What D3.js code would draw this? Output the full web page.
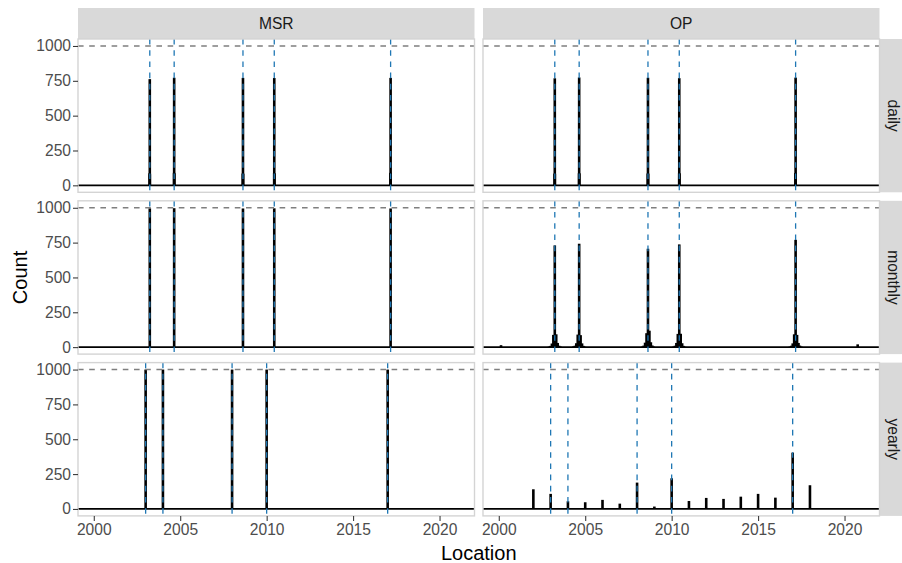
<!DOCTYPE html>
<html><head><meta charset="utf-8">
<script src="https://cdn.jsdelivr.net/npm/d3@7/dist/d3.min.js"></script>
<style>
body{margin:0;background:#fff}
svg{display:block;font-family:"Liberation Sans",Arial,Helvetica,sans-serif}
</style>
</head><body>
<svg id="chart" width="902" height="563"></svg>
<script>
// ---------- data ----------
const colFacets = ["MSR", "OP"];
const rowFacets = ["daily", "monthly", "yearly"];
const xTicks = [2000, 2005, 2010, 2015, 2020];
const yTicks = [0, 250, 500, 750, 1000];
const locationRange = [2000.13, 2020.98];
const referenceCount = 1000;
const trueChangeSubYear = [2003.24, 2004.65, 2008.63, 2010.44, 2017.17];
const trueChangeYear = [2003, 2004, 2008, 2010, 2017];

const msrDaily = [
  [2003.237, 88], [2003.24, 762], [2003.243, 80],
  [2004.647, 90], [2004.65, 772], [2004.653, 85],
  [2008.627, 86], [2008.63, 771], [2008.633, 82],
  [2010.437, 88], [2010.44, 770], [2010.443, 84],
  [2017.167, 90], [2017.17, 771], [2017.173, 86]
];
const opDaily = [
  [2003.237, 85], [2003.24, 768], [2003.243, 82],
  [2004.647, 88], [2004.65, 774], [2004.653, 84],
  [2008.627, 86], [2008.63, 772], [2008.633, 83],
  [2010.437, 87], [2010.44, 769], [2010.443, 85],
  [2017.167, 89], [2017.17, 773], [2017.173, 86]
];
const msrMonthly = [
  [2003.24, 996], [2004.65, 997], [2008.63, 995], [2010.44, 996], [2017.17, 995]
];
const opMonthly = [
  [2000.13, 14],
  [2002.907, 4], [2002.99, 9], [2003.073, 26], [2003.157, 88], [2003.24, 730],
  [2003.323, 92], [2003.407, 30], [2003.49, 10], [2003.573, 4],
  [2004.317, 5], [2004.4, 10], [2004.483, 28], [2004.567, 90], [2004.65, 742],
  [2004.733, 86], [2004.817, 27], [2004.9, 9], [2004.983, 3],
  [2008.297, 4], [2008.38, 11], [2008.463, 32], [2008.547, 100], [2008.63, 706],
  [2008.713, 118], [2008.797, 35], [2008.88, 12], [2008.963, 4],
  [2010.107, 4], [2010.19, 10], [2010.273, 30], [2010.357, 95], [2010.44, 737],
  [2010.523, 96], [2010.607, 28], [2010.69, 9], [2010.773, 3],
  [2016.837, 4], [2016.92, 10], [2017.003, 27], [2017.087, 92], [2017.17, 770],
  [2017.253, 88], [2017.337, 30], [2017.42, 11], [2017.503, 4],
  [2020.76, 20]
];
const msrYearly = [
  [2003, 1000], [2004, 1000], [2008, 1000], [2010, 1000], [2017, 1000]
];
const opYearly = [
  [2002, 141], [2003, 108], [2004, 55], [2005, 48], [2006, 65], [2007, 38],
  [2008, 189], [2009, 17], [2010, 220], [2011, 57], [2012, 79], [2013, 72],
  [2014, 88], [2015, 108], [2016, 81], [2017, 404], [2018, 170]
];

const countsByPanel = {
  MSR: { daily: msrDaily, monthly: msrMonthly, yearly: msrYearly },
  OP:  { daily: opDaily,  monthly: opMonthly,  yearly: opYearly }
};
const changeByRow = { daily: trueChangeSubYear, monthly: trueChangeSubYear, yearly: trueChangeYear };

// ---------- layout ----------
const colLeft = [78, 483];
const panelW = 396.5;
const rowTop = [39, 200.8, 362.6];
const panelH = 153.3;
const stripTop = 8;
const rightStripX = 879;
const fontTick = 15.6;

const svg = d3.select("#chart");
svg.append("rect").attr("width", 902).attr("height", 563).attr("fill", "#fff");

const span = locationRange[1] - locationRange[0];
const x = d3.scaleLinear()
  .domain([locationRange[0] - 0.05 * span, locationRange[1] + 0.05 * span])
  .range([0, panelW]);
const allCounts = [0, referenceCount].concat(
  ...colFacets.map(c => rowFacets.map(r => countsByPanel[c][r].map(d => d[1])).flat()));
const [cMin, cMax] = d3.extent(allCounts);
const cSpan = cMax - cMin;
const y = d3.scaleLinear()
  .domain([cMin - 0.05 * cSpan, cMax + 0.05 * cSpan])
  .range([panelH, 0]);

const defs = svg.append("defs");
defs.append("clipPath").attr("id", "panelClip")
  .append("rect").attr("width", panelW).attr("height", panelH);

// top strips
colFacets.forEach((c, ci) => {
  svg.append("rect").attr("x", colLeft[ci]).attr("y", stripTop)
    .attr("width", panelW).attr("height", rowTop[0] - stripTop).attr("fill", "#D9D9D9");
  svg.append("text").attr("x", colLeft[ci] + panelW / 2).attr("y", stripTop + (rowTop[0] - stripTop) / 2 + 5.6)
    .attr("text-anchor", "middle").attr("font-size", fontTick).attr("fill", "#1A1A1A").text(c);
});
// right strips
rowFacets.forEach((r, ri) => {
  svg.append("rect").attr("x", rightStripX).attr("y", rowTop[ri])
    .attr("width", 40).attr("height", panelH).attr("fill", "#D9D9D9");
  svg.append("text")
    .attr("transform", `translate(${888},${rowTop[ri] + panelH / 2}) rotate(90)`)
    .attr("text-anchor", "middle").attr("font-size", fontTick).attr("fill", "#1A1A1A").text(r);
});

colFacets.forEach((c, ci) => {
  rowFacets.forEach((r, ri) => {
    const g = svg.append("g").attr("transform", `translate(${colLeft[ci]},${rowTop[ri]})`);
    g.append("rect").attr("width", panelW).attr("height", panelH).attr("fill", "#fff");
    const inner = g.append("g").attr("clip-path", "url(#panelClip)");
    // count bars
    inner.selectAll("rect.bar").data(countsByPanel[c][r]).join("rect")
      .attr("class", "bar")
      .attr("x", d => x(d[0]) - 1.3).attr("width", 2.6)
      .attr("y", d => y(d[1])).attr("height", d => y(0) - y(d[1]))
      .attr("fill", "#000");
    // zero line
    inner.append("line").attr("x1", 0).attr("x2", panelW)
      .attr("y1", y(0)).attr("y2", y(0)).attr("stroke", "#000").attr("stroke-width", 1.7);
    // reference line
    inner.append("line").attr("x1", 0).attr("x2", panelW)
      .attr("y1", y(referenceCount)).attr("y2", y(referenceCount))
      .attr("stroke", "#7F7F7F").attr("stroke-width", 1.4).attr("stroke-dasharray", "5.6,5.6");
    // true change points
    inner.selectAll("line.cp").data(changeByRow[r]).join("line")
      .attr("class", "cp")
      .attr("x1", d => x(d)).attr("x2", d => x(d)).attr("y1", 0).attr("y2", panelH)
      .attr("stroke", "#1F77B4").attr("stroke-width", 1.3).attr("stroke-dasharray", "5.6,5.6");
    // border
    g.append("rect").attr("width", panelW).attr("height", panelH)
      .attr("fill", "none").attr("stroke", "#D4D4D4").attr("stroke-width", 1.4);

    if (ci === 0) {
      const ax = g.append("g").call(d3.axisLeft(y).tickValues(yTicks).tickFormat(d3.format("d")).tickSize(5).tickPadding(2));
      ax.select(".domain").remove();
      ax.selectAll("line").attr("stroke", "#333333").attr("stroke-width", 1.05);
      ax.selectAll("text").attr("font-size", fontTick).attr("fill", "#4D4D4D")
        .attr("font-family", "Liberation Sans, Arial, sans-serif");
    }
    if (ri === rowFacets.length - 1) {
      const ax = g.append("g").attr("transform", `translate(0,${panelH})`)
        .call(d3.axisBottom(x).tickValues(xTicks).tickFormat(d3.format("d")).tickSize(5).tickPadding(3.5));
      ax.select(".domain").remove();
      ax.selectAll("line").attr("stroke", "#333333").attr("stroke-width", 1.05);
      ax.selectAll("text").attr("font-size", fontTick).attr("fill", "#4D4D4D")
        .attr("font-family", "Liberation Sans, Arial, sans-serif");
    }
  });
});

// axis titles
const plotLeft = colLeft[0], plotRight = colLeft[1] + panelW;
svg.append("text").attr("x", (plotLeft + plotRight) / 2).attr("y", 560)
  .attr("text-anchor", "middle").attr("font-size", 20).attr("fill", "#000").text("Location");
const plotTop = rowTop[0], plotBottom = rowTop[2] + panelH;
svg.append("text")
  .attr("transform", `translate(27,${(plotTop + plotBottom) / 2}) rotate(-90)`)
  .attr("text-anchor", "middle").attr("font-size", 20).attr("fill", "#000").text("Count");
</script>
</body></html>
